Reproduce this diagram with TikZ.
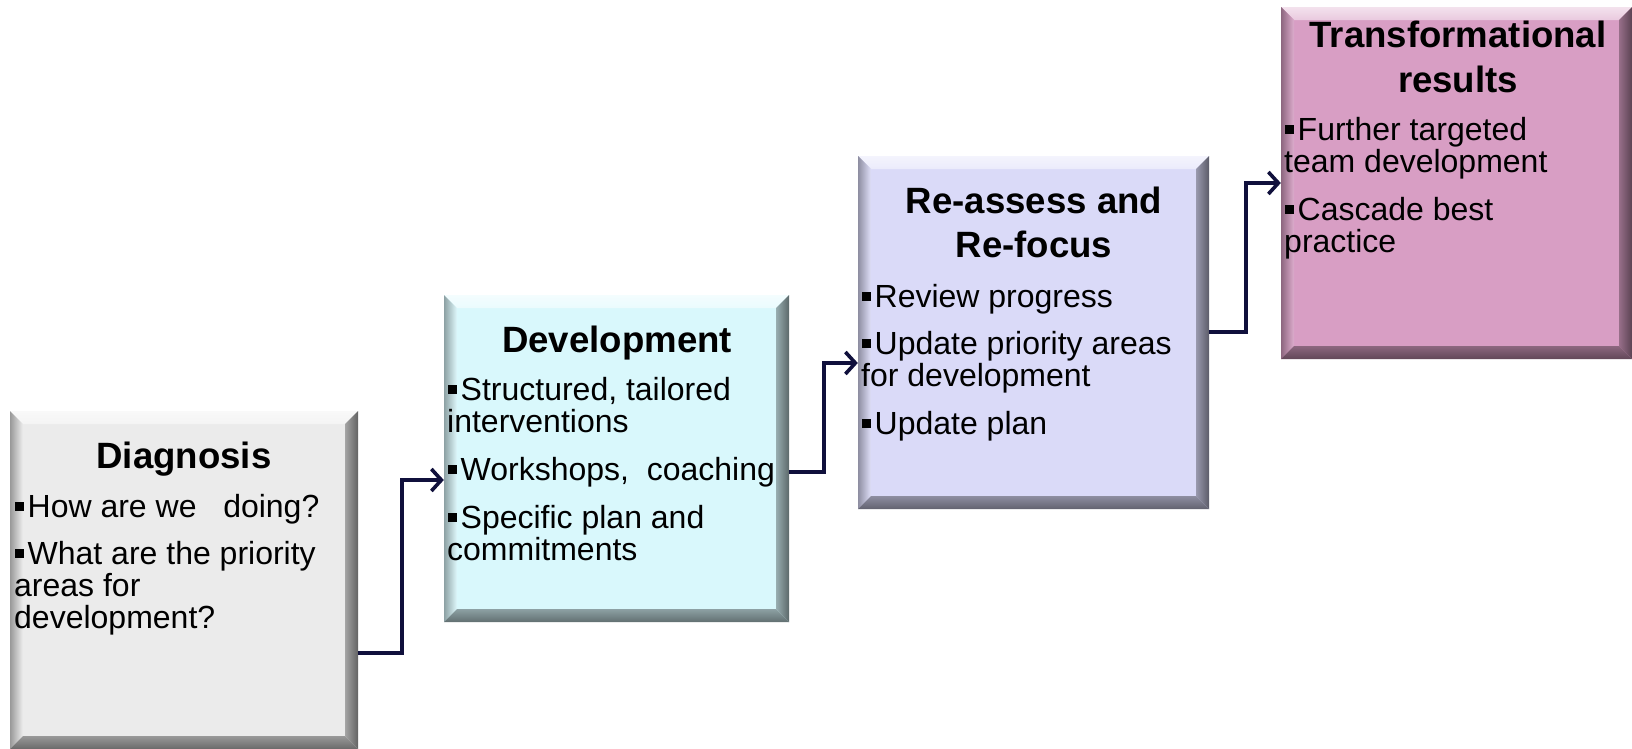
\documentclass[tikz,border=0pt]{standalone}
\usepackage{fontspec}
\setmainfont{Liberation Sans}
\usetikzlibrary{arrows.meta}
\definecolor{diagfill}{HTML}{EBEBEB}
\definecolor{devfill}{HTML}{D9F8FC}
\definecolor{reafill}{HTML}{DADAF8}
\definecolor{trafill}{HTML}{D89EC4}
\definecolor{navy}{HTML}{10103C}

\newcommand\sqbul{\rule[0.2em]{0.27em}{0.27em}\hspace{0.12em}}

\tikzset{
 boxtitle/.style={font=\bfseries\fontsize{36.6}{44}\selectfont, anchor=base, inner sep=0},
 bodyline/.style={font=\fontsize{32}{32}\selectfont, anchor=base west, inner sep=0},
 conn/.style={draw=navy, line width=3.6pt, -{Straight Barb[length=10pt,width=22pt]}},
 boxbase/.style={inner sep=0, draw=none}
}

\newcommand\bevelbox[6]{%
 \node[boxbase, fill=#6, minimum width={#4-#2}, minimum height={#5-#3}] (#1) at ({(#2+#4)/2},{(#3+#5)/2}) {};
 \shade[top color=#6!30!white, bottom color=#6!55!white] (#2,#3) -- (#4,#3) -- ({#4-13},{#3+13}) -- ({#2+13},{#3+13}) -- cycle;
 \shade[left color=#6!65!black, right color=#6!85!white] (#2,#3) -- ({#2+13},{#3+13}) -- ({#2+13},{#5-13}) -- (#2,#5) -- cycle;
 \shade[left color=#6!70!black, right color=#6!42!black] (#4,#3) -- (#4,#5) -- ({#4-13},{#5-13}) -- ({#4-13},{#3+13}) -- cycle;
 \shade[top color=#6!65!black, bottom color=#6!45!black] (#2,#5) -- (#4,#5) -- ({#4-13},{#5-13}) -- ({#2+13},{#5-13}) -- cycle;
}

\begin{document}
\begin{tikzpicture}[x=1pt,y=-1pt]
\useasboundingbox[fill=white] (0,0) rectangle (1632,748);

\bevelbox{A}{10}{411}{358}{749}{diagfill}
\bevelbox{B}{444}{295}{789}{622}{devfill}
\bevelbox{C}{858}{156}{1209}{509}{reafill}
\bevelbox{D}{1281}{7}{1632}{359}{trafill}

% Diagnosis
\node[boxtitle] (At) at (184,468) {Diagnosis};
\node[bodyline] (A1) at (15,517) {\sqbul How are we\ \ \ doing?};
\node[bodyline] (A2) at (15,564) {\sqbul What are the priority};
\node[bodyline] (A3) at (14,596) {areas for};
\node[bodyline] (A4) at (14,628) {development?};

% Development
\node[boxtitle] (Bt) at (617,352) {Development};
\node[bodyline] (B1) at (448,400) {\sqbul Structured, tailored};
\node[bodyline] (B2) at (447,432) {interventions};
\node[bodyline] (B3) at (448,480) {\sqbul Workshops,\ \ coaching};
\node[bodyline] (B4) at (448,528) {\sqbul Specific plan and};
\node[bodyline] (B5) at (447,560) {commitments};

% Re-assess
\node[boxtitle] (Ct1) at (1034,213) {Re-assess and};
\node[boxtitle] (Ct2) at (1034,257) {Re-focus};
\node[bodyline] (C1) at (862,307) {\sqbul Review progress};
\node[bodyline] (C2) at (862,354) {\sqbul Update priority areas};
\node[bodyline] (C3) at (861,386) {for development};
\node[bodyline] (C4) at (862,434) {\sqbul Update plan};

% Transformational
\node[boxtitle] (Dt1) at (1458,47) {Transformational};
\node[boxtitle] (Dt2) at (1458,92) {results};
\node[bodyline] (D1) at (1285,140) {\sqbul Further targeted};
\node[bodyline] (D2) at (1284,172) {team development};
\node[bodyline] (D3) at (1285,220) {\sqbul Cascade best};
\node[bodyline] (D4) at (1284,252) {practice};

% connectors
\draw[conn] (A.east |- 0,653) -- (402,653) |- (B.west |- 0,480);
\draw[conn] (B.east |- 0,472) -- (824,472) |- (C.west |- 0,363);
\draw[conn] (C.east |- 0,332) -- (1246,332) |- (D.west |- 0,183);
\end{tikzpicture}
\end{document}
